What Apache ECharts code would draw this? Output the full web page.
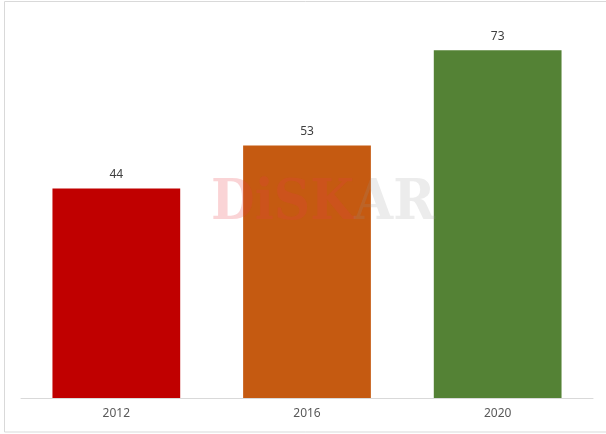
<!DOCTYPE html>
<html>
<head>
<meta charset="utf-8">
<script src="https://cdn.jsdelivr.net/npm/echarts@6/dist/echarts.min.js"></script>
<style>
  html, body { margin: 0; padding: 0; background: #fff; }
  #main { width: 606px; height: 434px; }
</style>
</head>
<body>
<div id="main"></div>
<script>
// chart data
var years = ['2012', '2016', '2020']
var values = [44, 53, 73]
var barColors = ['#C00000', '#C55A11', '#548235']

var chart = echarts.init(document.getElementById('main'), null, { renderer: 'canvas' })

chart.setOption({
  animation: false,
  grid: { left: 21, right: 13, top: 17, bottom: 36 },
  xAxis: {
    type: 'category',
    data: years,
    axisLine: { lineStyle: { color: '#d9d9d9', width: 1 } },
    axisTick: { show: false },
    axisLabel: { color: '#595959', fontSize: 12, fontFamily: 'Noto Sans', margin: 10 }
  },
  yAxis: {
    type: 'value',
    min: 0,
    max: 80,
    show: false,
    splitLine: { show: false }
  },
  series: [
    {
      type: 'bar',
      barWidth: '67%',
      data: values.map(function (v, i) {
        return { value: v, itemStyle: { color: barColors[i] } }
      }),
      label: {
        show: true,
        position: 'top',
        distance: 8,
        color: '#404040',
        fontSize: 12,
        fontFamily: 'Noto Sans'
      }
    }
  ],
  graphic: [
    // outer border
    {
      type: 'rect',
      shape: { x: 4.5, y: 1.5, width: 605, height: 430.5 },
      style: { fill: 'none', stroke: '#d9d9d9', lineWidth: 1 },
      z: 100
    },
    // watermark
    {
      type: 'text',
      left: 211,
      top: 176,
      z: 100,
      style: {
        text: '{a|DiSK}{b|AR}',
        rich: {
          a: { fontFamily: 'DejaVu Serif Condensed', fontWeight: 'bold', fontSize: 56, fill: 'rgba(230, 60, 70, 0.22)' },
          b: { fontFamily: 'DejaVu Serif Condensed', fontWeight: 'bold', fontSize: 56, fill: 'rgba(150, 150, 150, 0.18)' }
        }
      }
    }
  ]
})
</script>
</body>
</html>
